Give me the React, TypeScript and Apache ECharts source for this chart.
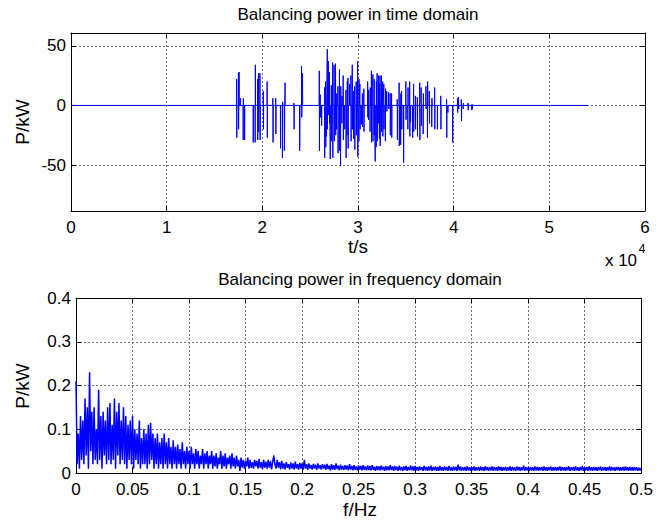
import React, { useEffect, useRef } from "react";
import * as echarts from "echarts";

// Time-domain balancing power: [time in s, power in kW]
const timeDomain: [number, number][] = [
  [0, 0],
  [17290, 0], [17310, 22], [17330, -27], [17350, 0],
  [17480, 0], [17500, 27], [17520, -20], [17540, 0],
  [17555, 0], [17570, 28], [17585, 0],
  [17690, 0], [17700, 6], [17710, 0],
  [17990, 0], [18000, -29], [18015, 6], [18030, 0],
  [18140, 0], [18150, -29], [18165, 0],
  [19040, 0], [19050, -31], [19060, 0],
  [19240, 0], [19250, -31], [19270, 34], [19290, 0],
  [19490, 0], [19500, 22], [19520, -29], [19540, 0],
  [19590, 0], [19600, 27], [19620, -22], [19640, 0],
  [19740, 0], [19750, 27], [19770, -29], [19790, 0],
  [20090, 0], [20100, 12], [20120, -20], [20140, 0],
  [20490, 0], [20500, 20], [20520, -27], [20540, 0],
  [21090, 0], [21100, 6], [21120, -31], [21140, 0],
  [21390, 0], [21400, 6], [21420, -24], [21440, 0],
  [21890, 0], [21900, -36], [21920, 0], [22090, 0], [22100, -44], [22120, 3], [22140, 0],
  [22290, 0], [22300, -38], [22320, -33], [22340, 0], [22370, 0], [22380, 19], [22395, 0],
  [23290, 0], [23300, 2], [23320, -20], [23340, 0],
  [23890, 0], [23900, -38], [23920, -30], [23940, 0], [24090, 0], [24100, 33], [24120, -10], [24140, 0],
  [24190, 0], [24200, 27], [24215, 0],
  [25940, 0], [25950, 29], [25970, -38], [25990, 0],
  [26050, 0], [26060, 9], [26080, -10], [26100, 0],
  [26190, 0], [26200, -17], [26215, 0],
  [26490, 0], [26500, 15], [26520, -44], [26540, 0],
  [26600, 0], [26610, 20], [26630, -35], [26650, 0],
  [26690, 0], [26700, -26], [26720, 0], [26780, 0], [26790, 47], [26810, -20], [26830, 0],
  [26890, 0], [26900, 37], [26920, -8], [26940, 0],
  [27000, 0], [27010, 28], [27030, -15], [27050, 0],
  [27090, 0], [27100, -45], [27115, 0], [27200, 0], [27210, 17], [27230, -30], [27250, 0],
  [27340, 0], [27350, 36], [27370, -44], [27390, 0], [27490, 0], [27500, 34], [27520, -30], [27540, 0],
  [27640, 0], [27650, 35], [27670, -25], [27690, 0],
  [27750, 0], [27760, -20], [27780, 10], [27800, 0],
  [27890, 0], [27900, 16], [27920, -40], [27940, 0],
  [28050, 0], [28060, 30], [28080, -38], [28100, 0],
  [28170, 0], [28180, -51], [28200, 16], [28220, 0],
  [28300, 0], [28310, -15], [28330, 8], [28350, 0],
  [28440, 0], [28450, 25], [28470, -29], [28490, 0], [28600, 0], [28610, -20], [28625, 0],
  [28730, 0], [28740, 13], [28760, -44], [28780, 0],
  [28850, 0], [28860, -25], [28880, 20], [28900, 0],
  [28940, 0], [28950, 23], [28970, -36], [28990, 0],
  [29090, 0], [29100, 18], [29115, 0],
  [29250, 0], [29260, 25], [29280, -30], [29300, 0],
  [29390, 0], [29400, 34], [29420, -20], [29440, 0],
  [29520, 0], [29530, -28], [29550, 12], [29570, 0],
  [29640, 0], [29650, 16], [29670, -37], [29690, 0],
  [29800, 0], [29810, 20], [29830, -25], [29850, 0], [29950, 0], [29960, 37], [29980, -43], [30000, 0],
  [30080, 0], [30090, -30], [30110, 22], [30130, 0],
  [30190, 0], [30200, 18], [30220, -20], [30240, 0], [30340, 0], [30350, -16], [30365, 0],
  [30450, 0], [30460, 10], [30480, -18], [30500, 0],
  [30600, 0], [30610, 14], [30630, -22], [30650, 0],
  [31000, 0], [31010, 20], [31030, -10], [31050, 0],
  [31090, 0], [31100, -12], [31120, 13], [31140, 0],
  [31250, 0], [31260, -22], [31280, 15], [31300, 0],
  [31390, 0], [31400, 29], [31420, -31], [31440, 0], [31540, 0], [31550, 26], [31570, -30], [31590, 0],
  [31680, 0], [31690, 22], [31710, -25], [31730, 0],
  [31790, 0], [31800, -47], [31815, 0],
  [31890, 0], [31900, -35], [31920, 20], [31940, 0],
  [31990, 0], [32000, 27], [32020, -30], [32040, 0], [32140, 0], [32150, 25], [32170, -15], [32190, 0],
  [32230, 0], [32240, -28], [32260, 18], [32280, 0],
  [32290, 0], [32300, 25], [32320, -34], [32340, 0], [32440, 0], [32450, 25], [32470, -22], [32490, 0],
  [32570, 0], [32580, 20], [32600, -26], [32620, 0],
  [32690, 0], [32700, 18], [32720, -20], [32740, 0],
  [32850, 0], [32860, -30], [32880, 14], [32900, 0],
  [32990, 0], [33000, 12], [33020, -5], [33040, 0],
  [33190, 0], [33200, 11], [33220, -3], [33240, 0], [33350, 0], [33360, 10], [33380, -25], [33400, 0],
  [33500, 0], [33510, 10], [33530, -27], [33550, 0],
  [34090, 0], [34100, 5], [34120, -29], [34140, 0], [34290, 0], [34300, 19], [34320, -34], [34340, 0],
  [34450, 0], [34460, -33], [34480, 10], [34500, 0],
  [34550, 0], [34560, 12], [34580, -20], [34600, 0],
  [34760, 0], [34770, -48], [34785, 0],
  [34990, 0], [35000, 20], [35020, -12], [35040, 0],
  [35200, 0], [35210, -20], [35230, 15], [35250, 0],
  [35390, 0], [35400, 20], [35420, -26], [35440, 0],
  [35490, 0], [35500, -14], [35515, 0], [35700, 0], [35710, -27], [35725, 0],
  [35800, 0], [35810, 18], [35830, -22], [35850, 0],
  [35990, 0], [36000, 8], [36020, -20], [36040, 0], [36190, 0], [36200, 7], [36220, -26], [36240, 0],
  [36440, 0], [36450, 19], [36470, -29], [36490, 0], [36590, 0], [36600, 15], [36620, -17], [36640, 0],
  [36800, 0], [36810, -24], [36830, 10], [36850, 0],
  [37090, 0], [37100, 16], [37120, -3], [37140, 0],
  [37250, 0], [37260, -27], [37280, 20], [37300, 0],
  [37440, 0], [37450, 12], [37470, -15], [37490, 0],
  [37700, 0], [37710, -18], [37730, 6], [37750, 0],
  [38000, 0], [38010, 15], [38030, -20], [38050, 0],
  [38290, 0], [38300, -20], [38315, 0], [38640, 0], [38650, 8], [38670, -20], [38690, 0],
  [39250, 0], [39260, 5], [39280, -27], [39300, 0], [39390, 0], [39400, -6], [39415, 0],
  [39890, 0], [39900, -31], [39915, 0],
  [40390, 0], [40400, 6], [40420, -6], [40440, 0], [40490, 0], [40500, 7], [40520, -3], [40540, 0],
  [40790, 0], [40800, 5], [40820, -13], [40840, 0], [40990, 0], [41000, -3], [41020, 2], [41040, 0],
  [41490, 0], [41500, 2], [41520, -4], [41540, 0], [41890, 0], [41900, -4], [41920, 1], [41940, -3], [41960, 0],
  [54000, 0],
];

// Frequency-domain amplitude, one value per 0.001 Hz bin from 0 to 0.5 Hz
const freqStepHz = 0.001;
const spectrumKW: number[] = [
  0.21, 0.02, 0.09, 0.01, 0.13, 0.03, 0.12, 0.02, 0.17, 0.04, 0.15, 0.01, 0.23, 0.05, 0.14, 0.02, 0.15, 0.03, 0.10, 0.02,
  0.19, 0.03, 0.13, 0.01, 0.14, 0.04, 0.12, 0.02, 0.15, 0.03, 0.16, 0.02, 0.11, 0.03, 0.17, 0.01, 0.14, 0.04, 0.16, 0.02,
  0.12, 0.03, 0.15, 0.02, 0.13, 0.01, 0.11, 0.03, 0.12, 0.02, 0.13, 0.01, 0.10, 0.03, 0.09, 0.02, 0.12, 0.01, 0.08, 0.02,
  0.10, 0.02, 0.09, 0.01, 0.11, 0.02, 0.115, 0.03, 0.09, 0.01, 0.08, 0.02, 0.09, 0.01, 0.07, 0.02, 0.08, 0.01, 0.09, 0.02,
  0.07, 0.01, 0.08, 0.02, 0.06, 0.01, 0.075, 0.02, 0.06, 0.01, 0.065, 0.02, 0.055, 0.01, 0.07, 0.02, 0.05, 0.01, 0.06, 0.02,
  0.05, 0.01, 0.06, 0.02, 0.045, 0.01, 0.055, 0.02, 0.05, 0.01, 0.04, 0.02, 0.055, 0.01, 0.045, 0.02, 0.05, 0.01, 0.04, 0.02,
  0.05, 0.01, 0.04, 0.015, 0.045, 0.01, 0.035, 0.02, 0.05, 0.01, 0.04, 0.015, 0.045, 0.01, 0.035, 0.02, 0.04, 0.01, 0.045, 0.015,
  0.035, 0.01, 0.04, 0.015, 0.03, 0.005, 0.035, 0.012, 0.03, 0.01, 0.028, 0.015, 0.035, 0.01, 0.03, 0.012, 0.025, 0.01, 0.03, 0.015,
  0.028, 0.01, 0.032, 0.012, 0.025, 0.008, 0.03, 0.012, 0.026, 0.01, 0.03, 0.012, 0.028, 0.008, 0.025, 0.04, 0.02, 0.01, 0.03, 0.012,
  0.025, 0.008, 0.028, 0.01, 0.022, 0.008, 0.025, 0.012, 0.02, 0.008, 0.024, 0.01, 0.022, 0.008, 0.026, 0.01, 0.02, 0.008, 0.023, 0.01,
  0.022, 0.008, 0.03, 0.01, 0.02, 0.007, 0.022, 0.01, 0.018, 0.008, 0.021, 0.01, 0.019, 0.007, 0.022, 0.01, 0.018, 0.008, 0.02, 0.01,
  0.019, 0.007, 0.021, 0.009, 0.017, 0.006, 0.02, 0.008, 0.018, 0.007, 0.022, 0.009, 0.017, 0.006, 0.019, 0.008, 0.016, 0.007, 0.018, 0.008,
  0.017, 0.006, 0.02, 0.008, 0.016, 0.006, 0.018, 0.007, 0.015, 0.006, 0.017, 0.008, 0.016, 0.006, 0.018, 0.007, 0.015, 0.006, 0.017, 0.007,
  0.016, 0.006, 0.018, 0.007, 0.014, 0.005, 0.016, 0.007, 0.015, 0.006, 0.017, 0.007, 0.014, 0.005, 0.016, 0.006, 0.015, 0.006, 0.018, 0.007,
  0.015, 0.005, 0.016, 0.007, 0.014, 0.005, 0.017, 0.006, 0.014, 0.005, 0.015, 0.007, 0.016, 0.005, 0.014, 0.006, 0.017, 0.006, 0.015, 0.005,
  0.016, 0.006, 0.014, 0.005, 0.015, 0.007, 0.013, 0.005, 0.016, 0.006, 0.014, 0.005, 0.015, 0.006, 0.017, 0.005, 0.014, 0.006, 0.015, 0.005,
  0.014, 0.005, 0.016, 0.006, 0.013, 0.005, 0.015, 0.006, 0.014, 0.005, 0.016, 0.006, 0.013, 0.005, 0.015, 0.006, 0.014, 0.005, 0.019, 0.006,
  0.015, 0.005, 0.013, 0.006, 0.014, 0.005, 0.015, 0.006, 0.013, 0.005, 0.014, 0.006, 0.015, 0.005, 0.013, 0.006, 0.014, 0.005, 0.015, 0.006,
  0.013, 0.005, 0.015, 0.006, 0.014, 0.005, 0.013, 0.006, 0.015, 0.005, 0.014, 0.006, 0.013, 0.005, 0.015, 0.006, 0.014, 0.005, 0.013, 0.006,
  0.014, 0.005, 0.013, 0.006, 0.015, 0.005, 0.014, 0.006, 0.013, 0.005, 0.015, 0.006, 0.014, 0.005, 0.013, 0.006, 0.017, 0.005, 0.014, 0.006,
  0.013, 0.005, 0.014, 0.006, 0.013, 0.005, 0.015, 0.006, 0.014, 0.005, 0.013, 0.006, 0.014, 0.005, 0.015, 0.006, 0.013, 0.005, 0.014, 0.006,
  0.015, 0.005, 0.013, 0.006, 0.014, 0.005, 0.013, 0.006, 0.015, 0.005, 0.014, 0.006, 0.013, 0.005, 0.014, 0.006, 0.015, 0.005, 0.013, 0.006,
  0.014, 0.005, 0.015, 0.006, 0.013, 0.005, 0.014, 0.006, 0.016, 0.005, 0.013, 0.006, 0.014, 0.005, 0.015, 0.006, 0.013, 0.005, 0.014, 0.006,
  0.013, 0.005, 0.014, 0.006, 0.015, 0.005, 0.013, 0.006, 0.014, 0.005, 0.013, 0.006, 0.015, 0.005, 0.014, 0.006, 0.013, 0.005, 0.014, 0.006,
  0.014, 0.005, 0.013, 0.006, 0.014, 0.005, 0.015, 0.006, 0.013, 0.005, 0.014, 0.006, 0.013, 0.005, 0.014, 0.006, 0.013, 0.005, 0.012, 0.006,
  0.012,
];

const timeYTicks = [-50, 0, 50];
const timeXScale = 10000;

const FONT = "'Liberation Sans', Arial, Helvetica, sans-serif";
const GRID_LINE = { color: "#6e6e6e", type: [2, 2] as number[], width: 1 };
const BLACK_LINE = { color: "#000", width: 1 };

export default function App() {
  const ref = useRef<HTMLDivElement>(null);

  useEffect(() => {
    if (!ref.current) return;
    const chart = echarts.init(ref.current, null, { renderer: "svg" });
    const freqData = spectrumKW.map((v, i) => [Number((i * freqStepHz).toFixed(3)), v]);

    const tickLabel = { color: "#000", fontSize: 17, fontFamily: FONT };

    const text = (t: string, x: number, y: number, size: number, rotation = 0, align = "center") => ({
      type: "text",
      x,
      y,
      rotation,
      silent: true,
      style: {
        text: t,
        fill: "#000",
        font: `${size}px ${FONT}`,
        fontSize: size,
        fontFamily: FONT,
        align,
        textAlign: align,
        verticalAlign: "middle",
        textVerticalAlign: "middle",
      },
    });

    const xBase = (gridIndex: number, position: string, min: number, max: number, interval: number, main: boolean) => ({
      gridIndex,
      type: "value",
      min,
      max,
      interval,
      position,
      axisLine: { show: true, onZero: false, lineStyle: BLACK_LINE },
      axisTick: { show: true, inside: true, length: 5, lineStyle: BLACK_LINE },
      axisLabel: main ? { ...tickLabel, margin: 8 } : { show: false },
      splitLine: main ? { show: true, lineStyle: GRID_LINE } : { show: false },
    });

    const xTime = xBase(0, "bottom", 0, 60000, 10000, true);
    (xTime.axisLabel as any).formatter = (v: number) => String(v / timeXScale);

    const option: any = {
      animation: false,
      backgroundColor: "#fff",
      grid: [
        { left: 71, top: 33, width: 574, height: 178 },
        { left: 76, top: 298, width: 568, height: 175 },
      ],
      xAxis: [
        xTime,
        xBase(0, "top", 0, 60000, 10000, false),
        xBase(1, "bottom", 0, 0.5, 0.05, true),
        xBase(1, "top", 0, 0.5, 0.05, false),
      ],
      yAxis: [
        {
          gridIndex: 0,
          type: "value",
          min: -88.5,
          max: 60.7,
          splitNumber: 3,
          position: "left",
          axisLine: { show: true, onZero: false, lineStyle: BLACK_LINE },
          axisTick: { show: true, inside: true, length: 5, lineStyle: BLACK_LINE, customValues: timeYTicks },
          axisLabel: { ...tickLabel, margin: 5, customValues: timeYTicks },
          splitLine: { show: true, lineStyle: GRID_LINE },
        },
        {
          gridIndex: 0,
          type: "value",
          min: -88.5,
          max: 60.7,
          splitNumber: 3,
          position: "right",
          axisLine: { show: true, onZero: false, lineStyle: BLACK_LINE },
          axisTick: { show: true, inside: true, length: 5, lineStyle: BLACK_LINE, customValues: timeYTicks },
          axisLabel: { show: false },
          splitLine: { show: false },
        },
        {
          gridIndex: 1,
          type: "value",
          min: 0,
          max: 0.4,
          interval: 0.1,
          position: "left",
          axisLine: { show: true, onZero: false, lineStyle: BLACK_LINE },
          axisTick: { show: true, inside: true, length: 5, lineStyle: BLACK_LINE },
          axisLabel: { ...tickLabel, margin: 5 },
          splitLine: { show: true, lineStyle: GRID_LINE },
        },
        {
          gridIndex: 1,
          type: "value",
          min: 0,
          max: 0.4,
          interval: 0.1,
          position: "right",
          axisLine: { show: true, onZero: false, lineStyle: BLACK_LINE },
          axisTick: { show: true, inside: true, length: 5, lineStyle: BLACK_LINE },
          axisLabel: { show: false },
          splitLine: { show: false },
        },
      ],
      series: [
        {
          type: "line",
          xAxisIndex: 0,
          yAxisIndex: 0,
          data: timeDomain,
          showSymbol: false,
          symbol: "none",
          lineStyle: { color: "#0000ff", width: 1 },
          itemStyle: { color: "#0000ff" },
          z: 3,
        },
        {
          type: "line",
          xAxisIndex: 2,
          yAxisIndex: 2,
          data: freqData,
          showSymbol: false,
          symbol: "none",
          lineStyle: { color: "#0000ff", width: 1.5 },
          itemStyle: { color: "#0000ff" },
          z: 3,
        },
      ],
      graphic: [
        text("Balancing power in time domain", 358, 14, 17),
        text("t/s", 358, 246, 19),
        text("P/kW", 22, 122, 19, Math.PI / 2),
        text("x 10", 621, 260, 17),
        text("4", 642, 249, 12),
        text("Balancing power in frequency domain", 360, 279, 17),
        text("f/Hz", 360, 509, 19),
        text("P/kW", 22, 386, 19, Math.PI / 2),
      ],
    };

    chart.setOption(option);
    return () => chart.dispose();
  }, []);

  return (
    <div
      ref={ref}
      style={{ position: "fixed", left: 0, top: 0, width: 656, height: 520, background: "#fff" }}
    />
  );
}
